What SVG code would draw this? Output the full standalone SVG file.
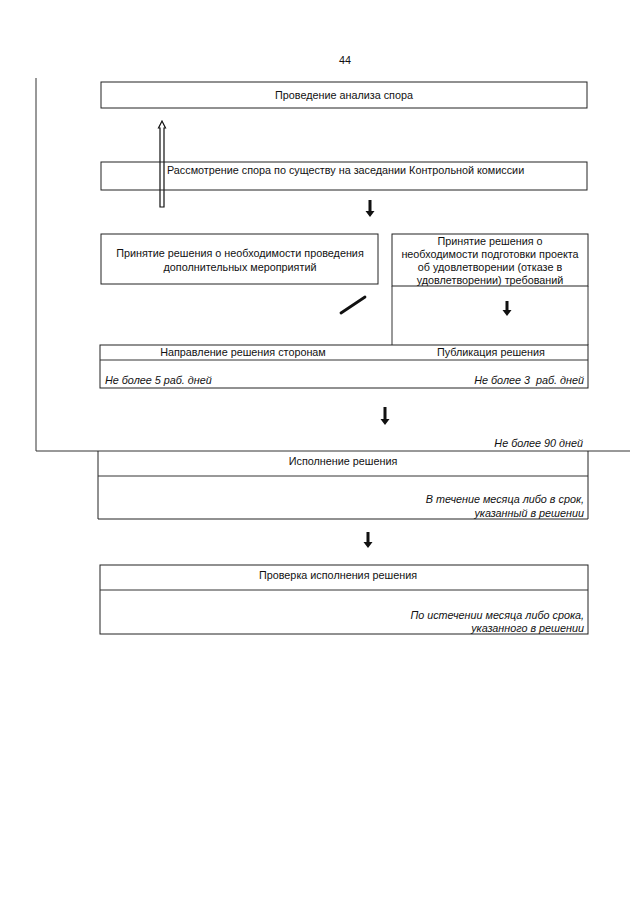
<svg xmlns="http://www.w3.org/2000/svg" width="640" height="905" viewBox="0 0 640 905">
<defs>
<style>
.box{fill:none;stroke:#222;stroke-width:1}
.ln{fill:none;stroke:#333;stroke-width:1}
.t{font-family:"Liberation Sans",Arial,sans-serif;font-size:10.8px;fill:#111}
.c{text-anchor:middle}
.r{text-anchor:end}
.i{font-style:italic}
.arr{fill:#111;stroke:none}
</style>
</defs>
<rect width="640" height="905" fill="#fff"/>
<text class="t c" x="345" y="64" font-size="11.5">44</text>

<g id="connectors">
<path class="ln" d="M36,78 V451 H630"/>
<path d="M160,207 V128 H158.5 L162,121 L165.5,128 H164 V207 Z" fill="#fff" stroke="#111" stroke-width="1.2"/>
<path class="arr" d="M368.5,200 H371.5 V211 H374.5 L370,217 L365.5,211 H368.5 Z"/>
<line x1="341" y1="313" x2="365" y2="297" stroke="#111" stroke-width="2.8" stroke-linecap="round"/>
<path class="arr" d="M505.5,301 H508.5 V310 H511.5 L507,316 L502.5,310 H505.5 Z"/>
<path class="arr" d="M383.5,407 H386.5 V419 H389.5 L385,425 L380.5,419 H383.5 Z"/>
<path class="arr" d="M366.5,532 H369.5 V542 H372.5 L368,548 L363.5,542 H366.5 Z"/>
</g>

<g id="n1">
<rect class="box" x="101" y="82" width="486" height="26"/>
<text class="t c" x="344" y="99">Проведение анализа спора</text>
</g>

<g id="n2">
<rect class="box" x="101" y="162" width="486" height="28"/>
<text class="t" x="167" y="174">Рассмотрение спора по существу на заседании Контрольной комиссии</text>
</g>

<g id="n3">
<rect class="box" x="101" y="234" width="277" height="50"/>
<text class="t c" x="240" y="257">Принятие решения о необходимости проведения</text>
<text class="t c" x="240" y="271">дополнительных мероприятий</text>
</g>

<g id="n4">
<rect class="box" x="392" y="234" width="196" height="52"/>
<path class="ln" d="M392,286 V345 M588,286 V345"/>
<text class="t c" x="490" y="245">Принятие решения о</text>
<text class="t c" x="490" y="258">необходимости подготовки проекта</text>
<text class="t c" x="490" y="271">об удовлетворении (отказе в</text>
<text class="t c" x="490" y="284">удовлетворении) требований</text>
</g>

<g id="n5">
<rect class="box" x="100" y="345" width="488" height="43"/>
<line class="ln" x1="100" y1="360" x2="588" y2="360"/>
<text class="t c" x="243" y="356">Направление решения сторонам</text>
<text class="t c" x="491" y="356">Публикация решения</text>
<text class="t i" x="105" y="384">Не более 5 раб. дней</text>
<text class="t i r" x="584" y="384" xml:space="preserve">Не более 3  раб. дней</text>
</g>

<text class="t i r" x="583" y="447">Не более 90 дней</text>

<g id="n6">
<path class="box" d="M98,451 V519 H588 V451"/>
<line class="ln" x1="98" y1="476" x2="588" y2="476"/>
<text class="t c" x="343" y="465">Исполнение решения</text>
<text class="t i r" x="584" y="503">В течение месяца либо в срок,</text>
<text class="t i r" x="584" y="517">указанный в решении</text>
</g>

<g id="n7">
<rect class="box" x="100" y="565" width="488" height="69"/>
<line class="ln" x1="100" y1="590" x2="588" y2="590"/>
<text class="t c" x="338" y="579">Проверка исполнения решения</text>
<text class="t i r" x="584" y="619">По истечении месяца либо срока,</text>
<text class="t i r" x="584" y="632">указанного в решении</text>
</g>
</svg>
